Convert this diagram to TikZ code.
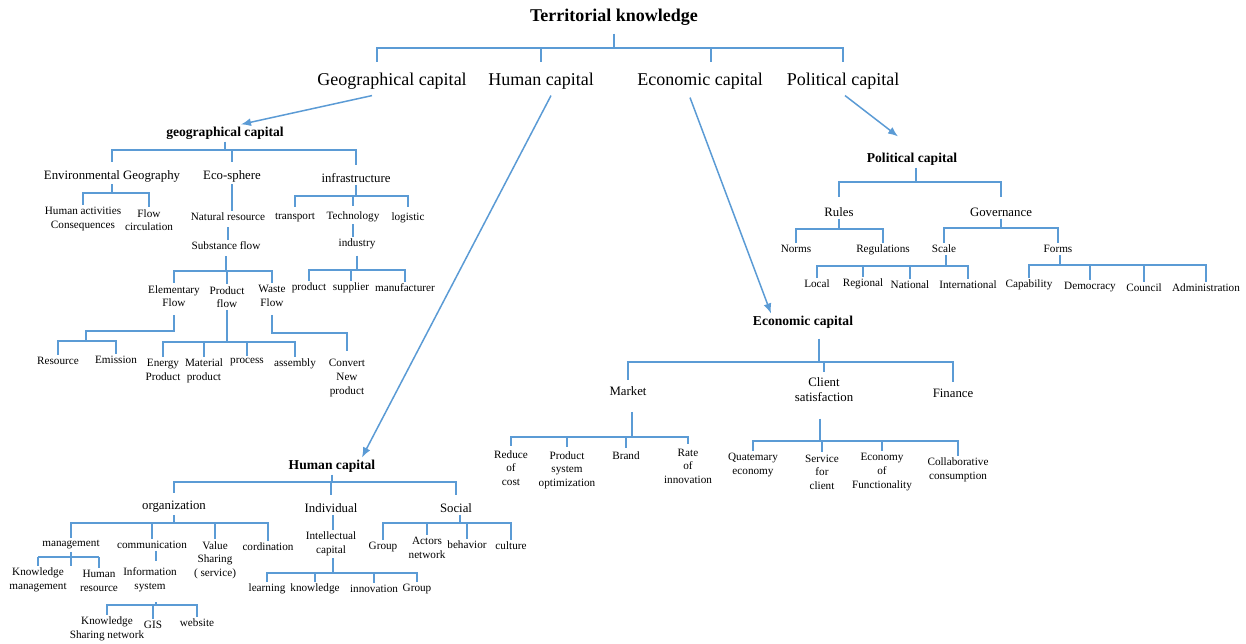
\documentclass[tikz,border=0pt]{standalone}
\usepackage{fontspec}
\setmainfont{Liberation Serif}
\usetikzlibrary{arrows.meta}
\definecolor{linkblue}{RGB}{91,155,213}
\tikzset{
  link/.style={draw=linkblue, line width=0.75pt},
  arr/.style={link, -{Latex[length=5pt,width=4pt]}},
  every node/.style={align=center, inner xsep=1pt, inner ysep=1pt},
  toptitle/.style={font=\bfseries\fontsize{9}{11}\selectfont},
  capnode/.style={font=\fontsize{9}{11}\selectfont},
  headnode/.style={font=\bfseries\fontsize{6.8}{8}\selectfont},
  branch/.style={font=\fontsize{6.4}{7.6}\selectfont},
  leaf/.style={font=\fontsize{5.6}{6.8}\selectfont},
}
\begin{document}
\begin{tikzpicture}[x=0.5pt,y=-0.5pt]
\useasboundingbox (0,0) rectangle (1246,643);
%\draw[help lines,step=50] (0,0) grid (1246,643);

\node[toptitle] (tk) at (614,17) {Territorial knowledge};
\node[capnode] (geo1) at (392,81) {Geographical capital};
\node[capnode] (hum1) at (541,81) {Human capital};
\node[capnode] (eco1) at (700,81) {Economic capital};
\node[capnode] (pol1) at (843,81) {Political capital};

\draw[link] ([yshift=-3pt]tk.south) -- (tk.south |- 0,48);
\foreach \n/\s in {geo1/-7.5pt,hum1/0pt,eco1/5.5pt,pol1/0pt}
  \draw[link] (tk.south |- 0,48) -| ([xshift=\s,yshift=4pt]\n.north);

\node[headnode] (geoh) at (225,133) {geographical capital};
\node[headnode] (humh) at (332,466) {Human capital};
\node[headnode] (ecoh) at (803,322) {Economic capital};
\node[headnode] (polh) at (912,159) {Political capital};

\draw[arr] ([xshift=-10pt,yshift=-2pt]geo1.south) -- ([xshift=8pt]geoh.north);
\draw[arr] ([xshift=5pt,yshift=-2pt]hum1.south) -- ([xshift=15pt]humh.north);
\draw[arr] ([xshift=-5pt,yshift=-3pt]eco1.south) -- ([xshift=-16pt]ecoh.north);
\draw[arr] ([xshift=1pt,yshift=-2pt]pol1.south) -- ([xshift=-7pt,yshift=7pt]polh.north);

% geographical capital
\node[branch] (envg) at (112,176) {Environmental Geography};
\node[branch] (ecos) at (232,176) {Eco-sphere};
\node[branch] (infra) at (356,178) {infrastructure};
\draw[link] (geoh.south) -- (geoh.south |- 0,150);
\foreach \n in {envg,ecos,infra}
  \draw[link] (geoh.south |- 0,150) -| ([yshift=3pt]\n.north);

\node[leaf] (hact) at (83,219) {Human activities\\Consequences};
\node[leaf] (flowc) at (149,220) {Flow\\circulation};
\draw[link] (envg.south) -- (envg.south |- 0,193);
\foreach \n in {hact,flowc}
  \draw[link] (envg.south |- 0,193) -| (\n.north);

\node[leaf] (natr) at (228,217) {Natural resource};
\node[leaf] (subs) at (226,246) {Substance flow};
\draw[link] (ecos.south) -- (ecos.south |- natr.north);
\draw[link] ([yshift=-2pt]natr.south) -- (natr.south |- subs.north);

\node[leaf] (transp) at (295,218) {transport};
\node[leaf] (techn) at (353,217) {Technology};
\node[leaf] (logis) at (408,218) {logistic};
\draw[link] (infra.south) -- (infra.south |- 0,196);
\foreach \n in {transp,techn,logis}
  \draw[link] (infra.south |- 0,196) -| ([yshift=2pt]\n.north);

\node[leaf] (indus) at (357,244) {industry};
\draw[link] (techn.south) -- (techn.south |- indus.north);
\node[leaf] (prod) at (309,288) {product};
\node[leaf] (suppl) at (351,288) {supplier};
\node[leaf] (manuf) at (405,288) {manufacturer};
\draw[link] ([yshift=-2pt]indus.south) -- (indus.south |- 0,270);
\foreach \n in {prod,suppl,manuf}
  \draw[link] (indus.south |- 0,270) -| (\n.north);

\node[leaf] (elem) at (174,296) {Elementary\\Flow};
\node[leaf] (prodf) at (227,297) {Product\\flow};
\node[leaf] (wastef) at (272,296) {Waste\\Flow};
\draw[link] ([yshift=-2pt]subs.south) -- (subs.south |- 0,271);
\foreach \n in {elem,prodf,wastef}
  \draw[link] (subs.south |- 0,271) -| (\n.north);

\node[leaf] (res) at (58,361) {Resource};
\node[leaf] (emis) at (116,360) {Emission};
\coordinate (ej) at (86,331);
\draw[link] ([yshift=-3pt]elem.south) |- (ej) -- (ej |- 0,341);
\foreach \n in {res,emis}
  \draw[link] (ej |- 0,341) -| (\n.north);

\node[leaf] (enprod) at (163,370) {Energy\\Product};
\node[leaf] (matprod) at (204,371) {Material\\product};
\node[leaf] (proc) at (247,362) {process};
\node[leaf] (assem) at (295,364) {assembly};
\draw[link] (prodf.south) -- (prodf.south |- 0,342);
\foreach \n in {enprod,matprod,proc,assem}
  \draw[link] (prodf.south |- 0,342) -| (\n.north);

\node[leaf] (conv) at (347,378) {Convert\\New\\product};
\draw[link] ([yshift=-3pt]wastef.south) -- (wastef.south |- 0,333) -| ([yshift=3pt]conv.north);

% human capital
\node[branch] (org) at (174,507) {organization};
\node[branch] (indiv) at (331,508) {Individual};
\node[branch] (social) at (456,508) {Social};
\draw[link] (humh.south) -- (humh.south |- 0,482);
\foreach \n in {org,indiv,social}
  \draw[link] (humh.south |- 0,482) -| ([yshift=3pt]\n.north);

\node[leaf] (mgmt) at (71,545) {management};
\node[leaf] (comm) at (152,545) {communication};
\node[leaf] (valsh) at (215,560) {Value\\Sharing\\( service)};
\node[leaf] (cord) at (268,547) {cordination};
\draw[link] (org.south) -- (org.south |- 0,523);
\foreach \n in {mgmt,comm,valsh,cord}
  \draw[link] (org.south |- 0,523) -| (\n.north);

\node[leaf] (kmgmt) at (38,580) {Knowledge\\management};
\node[leaf] (hres) at (99,581) {Human\\resource};
\draw[link] (mgmt.south) -- (mgmt.south |- 0,566);
\draw[link] (kmgmt.north |- 0,557) -- (hres.north |- 0,557);
\foreach \n in {kmgmt,hres}
  \draw[link] (\n.north |- 0,557) -- (\n.north);

\node[leaf] (infos) at (150,580) {Information\\system};
\draw[link] ([xshift=2pt]comm.south) -- ([xshift=2pt]comm.south |- 0,561);

\node[leaf] (ksn) at (107,629) {Knowledge\\Sharing network};
\node[leaf] (gis) at (153,625) {GIS};
\node[leaf] (website) at (197,623) {website};
\draw[link] ([xshift=3pt,yshift=-4pt]infos.south) -- ([xshift=3pt]infos.south |- 0,605);
\foreach \n in {ksn,gis,website}
  \draw[link] ([xshift=3pt]infos.south |- 0,605) -| (\n.north);

\node[leaf] (intc) at (331,544) {Intellectual\\capital};
\draw[link] ([xshift=1pt]indiv.south) -- ([xshift=1pt]indiv.south |- intc.north);

\node[leaf] (learn) at (267,589) {learning};
\node[leaf] (know) at (315,589) {knowledge};
\node[leaf] (innov) at (374,589) {innovation};
\node[leaf] (group2) at (417,589) {Group};
\draw[link] ([xshift=1pt]intc.south) -- ([xshift=1pt]intc.south |- 0,573);
\foreach \n in {learn,know,innov,group2}
  \draw[link] ([xshift=1pt]intc.south |- 0,573) -| (\n.north);

\node[leaf] (group1) at (383,547) {Group};
\node[leaf] (actors) at (427,548) {Actors\\network};
\node[leaf] (behav) at (467,545) {behavior};
\node[leaf] (cult) at (511,546) {culture};
\draw[link] ([xshift=2pt]social.south) -- ([xshift=2pt]social.south |- 0,523);
\foreach \n in {group1,actors,behav,cult}
  \draw[link] ([xshift=2pt]social.south |- 0,523) -| (\n.north);

% economic capital
\node[branch] (market) at (628,391) {Market};
\node[branch] (client) at (824,390) {Client\\satisfaction};
\node[branch] (finance) at (953,393) {Finance};
\draw[link] ([xshift=8pt,yshift=-4pt]ecoh.south) -- ([xshift=8pt]ecoh.south |- 0,362);
\foreach \n in {market,client,finance}
  \draw[link] ([xshift=8pt]ecoh.south |- 0,362) -| ([yshift=2pt]\n.north);

\node[leaf] (reduce) at (511,468) {Reduce\\of\\cost};
\node[leaf] (psys) at (567,470) {Product\\system\\optimization};
\node[leaf] (brand) at (626,456) {Brand};
\node[leaf] (rate) at (688,466) {Rate\\of\\innovation};
\draw[link] ([xshift=2pt,yshift=-7pt]market.south) -- ([xshift=2pt]market.south |- 0,437);
\foreach \n in {reduce,psys,brand,rate}
  \draw[link] ([xshift=2pt]market.south |- 0,437) -| ([yshift=1pt]\n.north);

\node[leaf] (quat) at (753,465) {Quatemary\\economy};
\node[leaf] (serv) at (822,472) {Service\\for\\client};
\node[leaf] (econf) at (882,472) {Economy\\of\\Functionality};
\node[leaf] (collab) at (958,470) {Collaborative\\consumption};
\draw[link] ([xshift=-2pt,yshift=-7pt]client.south) -- ([xshift=-2pt]client.south |- 0,441);
\foreach \n in {quat,serv,econf,collab}
  \draw[link] ([xshift=-2pt]client.south |- 0,441) -| (\n.north);

% political capital
\node[branch] (rules) at (839,212) {Rules};
\node[branch] (gov) at (1001,212) {Governance};
\draw[link] ([xshift=2pt]polh.south) -- ([xshift=2pt]polh.south |- 0,182);
\foreach \n in {rules,gov}
  \draw[link] ([xshift=2pt]polh.south |- 0,182) -| ([yshift=4pt]\n.north);

\node[leaf] (norms) at (796,249) {Norms};
\node[leaf] (regs) at (883,250) {Regulations};
\draw[link] (rules.south) -- (rules.south |- 0,229);
\foreach \n in {norms,regs}
  \draw[link] (rules.south |- 0,229) -| (\n.north);

\node[leaf] (scale) at (944,249) {Scale};
\node[leaf] (forms) at (1058,249) {Forms};
\draw[link] (gov.south) -- (gov.south |- 0,228);
\foreach \n in {scale,forms}
  \draw[link] (gov.south |- 0,228) -| (\n.north);

\node[leaf] (local) at (817,284) {Local};
\node[leaf] (regional) at (863,284) {Regional};
\node[leaf] (national) at (910,285) {National};
\node[leaf] (intl) at (968,285) {International};
\draw[link] ([xshift=1pt]scale.south) -- ([xshift=1pt]scale.south |- 0,266);
\foreach \n in {local,regional,national,intl}
  \draw[link] ([xshift=1pt]scale.south |- 0,266) -| (\n.north);

\node[leaf] (capab) at (1029,285) {Capability};
\node[leaf] (democ) at (1090,287) {Democracy};
\node[leaf] (council) at (1144,288) {Council};
\node[leaf] (admin) at (1206,288) {Administration};
\draw[link] ([xshift=1pt]forms.south) -- ([xshift=1pt]forms.south |- 0,265);
\foreach \n in {capab,democ,council,admin}
  \draw[link] ([xshift=1pt]forms.south |- 0,265) -| (\n.north);
\end{tikzpicture}
\end{document}
